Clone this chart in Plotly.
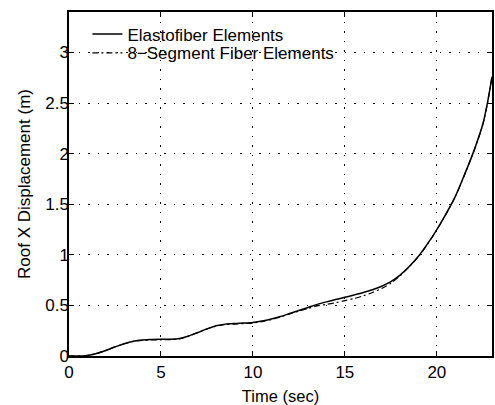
import plotly.graph_objects as go

# Time (sec)
t_elasto = [0, 0.8, 1.0, 1.5, 2.0, 2.5, 3.0, 3.5, 4.0, 4.5, 5.0, 5.5, 6.0, 6.5, 7.0, 7.5,
            8.0, 8.5, 9.0, 9.5, 10.0, 10.5, 11.0, 11.5, 12.0, 12.5, 13.0, 13.5, 14.0,
            14.5, 15.0, 15.5, 16.0, 16.5, 17.0, 17.5, 18.0, 18.5, 19.0, 19.5, 20.0,
            20.5, 21.0, 21.5, 22.0, 22.5, 22.75, 23.0]
y_elasto = [0, 0, 0.005, 0.025, 0.055, 0.09, 0.122, 0.146, 0.158, 0.163, 0.165, 0.165,
            0.172, 0.198, 0.232, 0.268, 0.298, 0.315, 0.322, 0.326, 0.332, 0.345, 0.365,
            0.39, 0.42, 0.45, 0.48, 0.51, 0.535, 0.558, 0.58, 0.603, 0.627, 0.655, 0.69,
            0.735, 0.80, 0.885, 0.985, 1.11, 1.25, 1.405, 1.575, 1.79, 2.02, 2.29, 2.5, 2.76]

t_fiber = [0, 0.8, 1.0, 1.5, 2.0, 2.5, 3.0, 3.5, 4.0, 4.5, 5.0, 5.5, 6.0, 6.5, 7.0, 7.5,
           8.0, 8.5, 9.0, 9.5, 10.0, 10.5, 11.0, 11.5, 12.0, 12.5, 13.0, 13.5, 14.0,
           14.5, 15.0, 15.5, 16.0, 16.5, 17.0, 17.5, 18.0, 18.5, 19.0, 19.5, 20.0,
           20.5, 21.0, 21.5, 22.0, 22.5, 22.75, 23.0]
y_fiber = [0, 0, 0.005, 0.025, 0.055, 0.09, 0.121, 0.144, 0.155, 0.159, 0.16, 0.162,
           0.17, 0.197, 0.231, 0.266, 0.295, 0.31, 0.316, 0.32, 0.326, 0.34, 0.36,
           0.385, 0.415, 0.444, 0.47, 0.495, 0.51, 0.527, 0.547, 0.568, 0.595, 0.628, 0.667,
           0.72, 0.792, 0.882, 0.982, 1.107, 1.247, 1.402, 1.572, 1.787, 2.017, 2.287, 2.497, 2.757]

x_ticks = [0, 5, 10, 15, 20]
y_ticks = [0, 0.5, 1, 1.5, 2, 2.5, 3]
y_tick_labels = ["0", "0.5", "1", "1.5", "2", "2.5", "3"]

FONT = "Liberation Sans, Arial, Helvetica, sans-serif"
FS = 17

fig = go.Figure()
fig.add_trace(go.Scatter(x=t_elasto, y=y_elasto, mode="lines", name="Elastofiber Elements",
                         line=dict(color="black", width=1.5, shape="spline", smoothing=0.8),
                         legend="legend"))
fig.add_trace(go.Scatter(x=t_fiber, y=y_fiber, mode="lines", name="8\u2212Segment Fiber Elements",
                         line=dict(color="black", width=1.2, dash="6px,3px,2px,3px",
                                   shape="spline", smoothing=0.8),
                         legend="legend2"))

axis_common = dict(showline=True, linecolor="black", linewidth=1.5, mirror="ticks",
                   ticks="inside", ticklen=5, tickwidth=1.2, tickcolor="black",
                   showgrid=True, gridcolor="black", gridwidth=1.2, griddash="1.5px,8px",
                   zeroline=False, tickfont=dict(family=FONT, size=FS, color="black"))

fig.update_xaxes(range=[0, 23], tickvals=x_ticks, ticktext=[str(v) for v in x_ticks],
                 title=dict(text="Time (sec)", font=dict(family=FONT, size=16.5, color="black"),
                            standoff=9),
                 **axis_common)
fig.update_yaxes(range=[0, 3.4], tickvals=y_ticks, ticktext=y_tick_labels,
                 ticklabelstandoff=-5,
                 title=dict(text="Roof X Displacement (m)",
                            font=dict(family=FONT, size=FS, color="black"), standoff=10),
                 **axis_common)

legend_common = dict(bgcolor="rgba(0,0,0,0)", borderwidth=0, xanchor="left", yanchor="middle",
                     font=dict(family=FONT, size=FS, color="black"))
fig.update_layout(
    width=495, height=405,
    margin=dict(l=69, r=1, t=12, b=49),
    plot_bgcolor="white", paper_bgcolor="white",
    legend=dict(x=0.0435, y=0.935, **legend_common),
    legend2=dict(x=0.0435, y=0.88, **legend_common),
    showlegend=True,
)

fig.write_html("out.html")
